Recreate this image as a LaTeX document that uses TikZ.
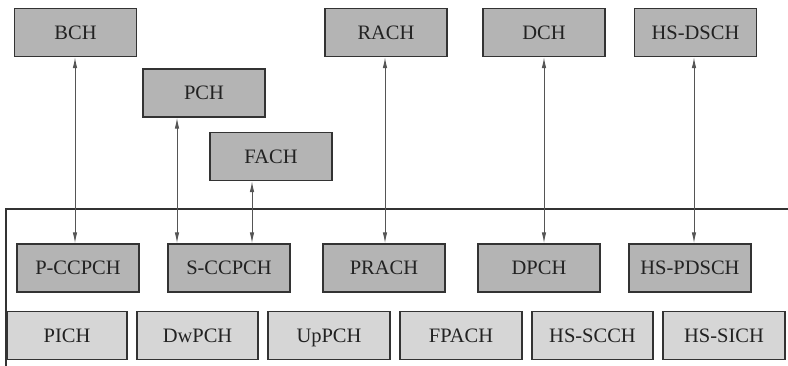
\documentclass[tikz,border=0pt]{standalone}
\usepackage{fontspec}
\setmainfont{Liberation Serif}
\usetikzlibrary{arrows.meta}
\definecolor{boxdark}{HTML}{B4B4B4}
\definecolor{boxlight}{HTML}{D6D6D6}
\definecolor{edge}{HTML}{333333}
\definecolor{txt}{HTML}{222222}
\definecolor{arrcol}{HTML}{555555}
\tikzset{
  chbox/.style={draw=edge, line width=1.4pt, fill=boxdark, minimum width=122pt, minimum height=48pt,
    inner sep=0pt, text=txt, font=\fontsize{20.5}{22}\selectfont, text height=13.4pt, text depth=0pt},
  lightbox/.style={chbox, fill=boxlight},
  link/.style={draw=arrcol, line width=1pt, {Latex[length=11pt,width=4.5pt]}-{Latex[length=11pt,width=4.5pt]}},
}
\begin{document}
\begin{tikzpicture}[x=1pt,y=-1pt]
\useasboundingbox (0,0) rectangle (788,365);
% frame
\draw[edge, line width=1.2pt] (6,366) -- (6,209) -- (789,209);
% top row
\node[chbox] (BCH) at (75.5,32.5) {BCH};
\node[chbox] (PCH) at (204,93) {PCH};
\node[chbox] (FACH) at (271,156.5) {FACH};
\node[chbox] (RACH) at (386,32.5) {RACH};
\node[chbox] (DCH) at (544,32.5) {DCH};
\node[chbox] (HSDSCH) at (695.5,32.5) {HS-DSCH};
% middle row
\node[chbox] (PCCPCH) at (78,268) {P-CCPCH};
\node[chbox] (SCCPCH) at (229,268) {S-CCPCH};
\node[chbox] (PRACH) at (384,268) {PRACH};
\node[chbox] (DPCH) at (539,268) {DPCH};
\node[chbox] (HSPDSCH) at (690,268) {HS-PDSCH};
% bottom row
\node[lightbox, minimum width=120pt] (PICH) at (67,335.5) {PICH};
\node[lightbox, minimum width=121pt] (DwPCH) at (197.5,335.5) {DwPCH};
\node[lightbox] (UpPCH) at (329,335.5) {UpPCH};
\node[lightbox] (FPACH) at (461,335.5) {FPACH};
\node[lightbox, minimum width=121pt] (HSSCCH) at (592.5,335.5) {HS-SCCH};
\node[lightbox] (HSSICH) at (724,335.5) {HS-SICH};
% connectors
\draw[link] ([xshift=-0.5pt]BCH.south) -- ([xshift=-0.5pt]BCH.south |- PCCPCH.north);
\draw[link] ([xshift=-27pt]PCH.south) -- ([xshift=-27pt]PCH.south |- SCCPCH.north);
\draw[link] ([xshift=-19pt]FACH.south) -- ([xshift=-19pt]FACH.south |- SCCPCH.north);
\draw[link] ([xshift=-1pt]RACH.south) -- ([xshift=-1pt]RACH.south |- PRACH.north);
\draw[link] (DCH.south) -- (DCH.south |- DPCH.north);
\draw[link] ([xshift=-1.5pt]HSDSCH.south) -- ([xshift=-1.5pt]HSDSCH.south |- HSPDSCH.north);
\end{tikzpicture}
\end{document}
